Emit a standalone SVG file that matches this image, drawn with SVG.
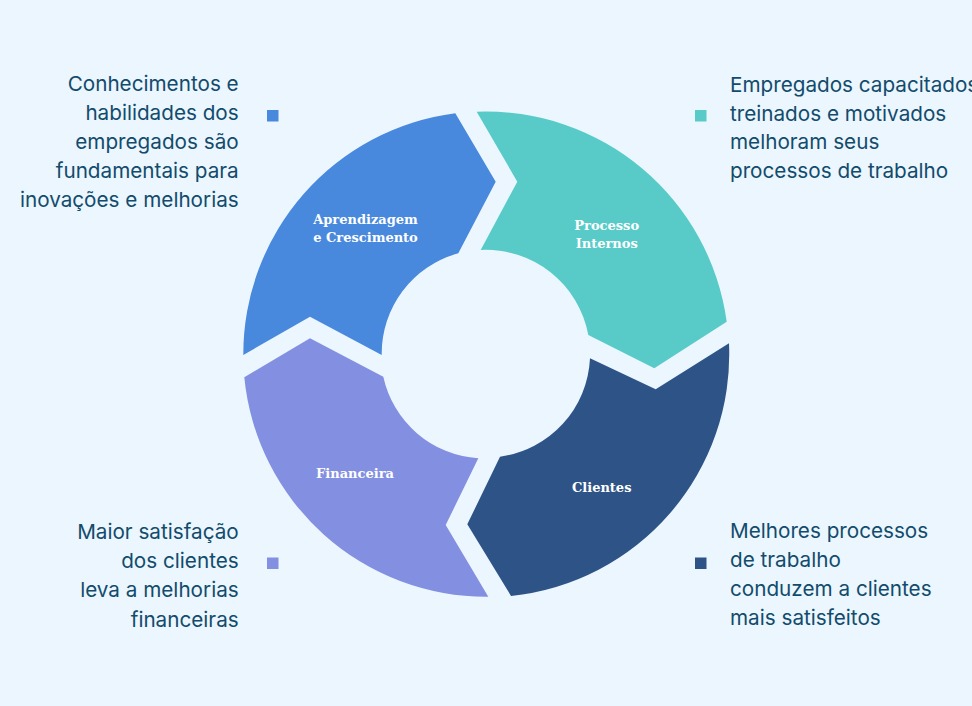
<svg xmlns="http://www.w3.org/2000/svg" width="972" height="706" viewBox="0 0 972 706">
<style>
.bg{fill:#ebf6fe}
.seg-label{font-family:"DejaVu Serif","Liberation Serif",serif;font-weight:bold;font-size:13px;fill:#ffffff;text-anchor:middle}
.desc{font-family:Inter,"Noto Sans","Liberation Sans",sans-serif;font-size:20.7px;fill:#124b6c}
.desc-r{text-anchor:end}
.c-blue{fill:#4888dd}
.c-teal{fill:#58cbc9}
.c-navy{fill:#2e5487}
.c-lav{fill:#838fe0}
</style>
<rect class="bg" x="0" y="0" width="972" height="706"/>
<g id="aprendizagem">
<path class="c-blue" d="M 243.3 355 A 243 243 0 0 1 455.3 113.3 L 495.7 181.7 L 458.3 253.3 A 104 104 0 0 0 381.7 355 L 310 316.7 Z"/>
<text class="seg-label" x="365.5" y="224">Aprendizagem</text>
<text class="seg-label" x="365.5" y="241.7">e Crescimento</text>
</g>
<g id="processo">
<path class="c-teal" d="M 476.7 111.7 A 243 243 0 0 1 726.7 321.7 L 654.3 368.3 L 588.3 335 A 104 104 0 0 0 480.7 250 L 517.3 181.7 Z"/>
<text class="seg-label" x="606.7" y="229.5">Processo</text>
<text class="seg-label" x="606.7" y="247.5">Internos</text>
</g>
<g id="clientes">
<path class="c-navy" d="M 729 343.3 A 243 243 0 0 1 511 596 L 467.3 524.3 L 500 456.7 A 104 104 0 0 0 590 358.3 L 655.7 389.3 Z"/>
<text class="seg-label" x="601.7" y="491.5">Clientes</text>
</g>
<g id="financeira">
<path class="c-lav" d="M 488.3 596.7 A 243 243 0 0 1 244.3 377.3 L 310 338.3 L 383.3 376.7 A 104 104 0 0 0 478.3 458.3 L 445.7 525 Z"/>
<text class="seg-label" x="355" y="478">Financeira</text>
</g>
<g id="legend-aprendizagem">
<rect class="c-blue" x="267" y="110" width="11.5" height="11.5"/>
<text class="desc desc-r" x="238.7" y="91">Conhecimentos e</text>
<text class="desc desc-r" x="238.7" y="120">habilidades dos</text>
<text class="desc desc-r" x="238.7" y="149.3">empregados são</text>
<text class="desc desc-r" x="238.7" y="178.3">fundamentais para</text>
<text class="desc desc-r" x="238.7" y="207.3">inovações e melhorias</text>
</g>
<g id="legend-processo">
<rect class="c-teal" x="695" y="110" width="11.5" height="11.5"/>
<text class="desc" x="730" y="91.5">Empregados capacitados,</text>
<text class="desc" x="730" y="120.5">treinados e motivados</text>
<text class="desc" x="730" y="149.3">melhoram seus</text>
<text class="desc" x="730" y="178.3">processos de trabalho</text>
</g>
<g id="legend-financeira">
<rect class="c-lav" x="267" y="557.5" width="11.5" height="11.5"/>
<text class="desc desc-r" x="238.7" y="539.3">Maior satisfação</text>
<text class="desc desc-r" x="238.7" y="568.3">dos clientes</text>
<text class="desc desc-r" x="238.7" y="597.3">leva a melhorias</text>
<text class="desc desc-r" x="238.7" y="626.5">financeiras</text>
</g>
<g id="legend-clientes">
<rect class="c-navy" x="695" y="557.5" width="11.5" height="11.5"/>
<text class="desc" x="730" y="538.3">Melhores processos</text>
<text class="desc" x="730" y="567.3">de trabalho</text>
<text class="desc" x="730" y="596">conduzem a clientes</text>
<text class="desc" x="730" y="625">mais satisfeitos</text>
</g>
<g id="connectors"></g>
</svg>
